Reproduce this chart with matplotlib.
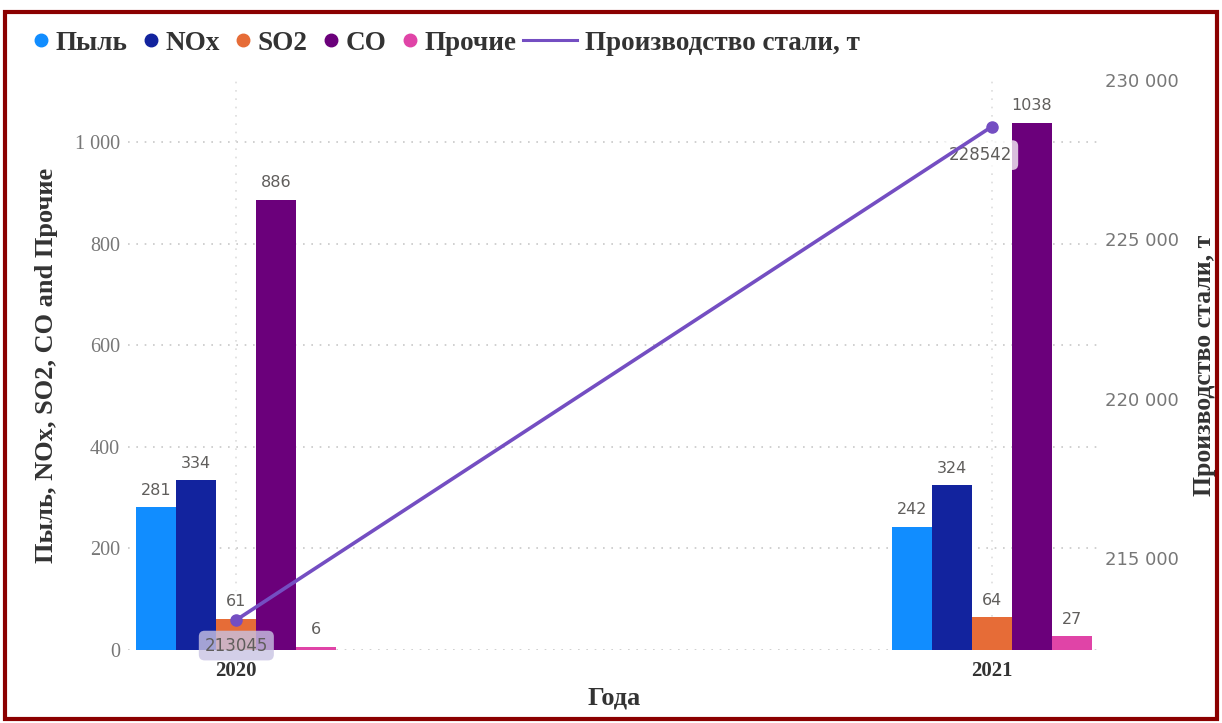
import matplotlib.pyplot as plt
from matplotlib.lines import Line2D
from matplotlib.patches import Rectangle
from matplotlib.ticker import FuncFormatter
import numpy as np

years = ["2020", "2021"]
series = ["Пыль", "NOx", "SO2", "CO", "Прочие"]
dust = [281, 242]
nox = [334, 324]
so2 = [61, 64]
co = [886, 1038]
other = [6, 27]
steel = [213045, 228542]

colors = ["#118DFF", "#12239E", "#E66C37", "#6B007B", "#E044A7"]
line_color = "#744EC2"
label_gray = "#605E5C"
title_color = "#333333"
serif = "Liberation Serif"

fig = plt.figure(figsize=(12.22, 7.23), dpi=100)
ax = fig.add_axes([0.105, 0.101, 0.795, 0.788])
ax2 = ax.twinx()

x = np.arange(len(years))
w = 0.053
values = [dust, nox, so2, co, other]
for i, (name, vals) in enumerate(zip(series, values)):
	pos = x + (i - 2) * w
	ax.bar(pos, vals, width=w, color=colors[i], label=name, zorder=2)
	for px, v in zip(pos, vals):
		ax.annotate(str(v), (px, v), xytext=(0, 7), textcoords="offset points",
			ha="center", va="bottom", fontsize=11.5, color=label_gray, zorder=5,
			bbox=dict(boxstyle="round,pad=0.25", fc="white", ec="none", alpha=0.8))

ax2.plot(x, steel, color=line_color, lw=2.6, marker="o", markersize=8, zorder=4)
ax2.annotate(str(steel[0]), (x[0], steel[0]), xytext=(0, -12), textcoords="offset points",
	ha="center", va="top", fontsize=12, color=label_gray,
	bbox=dict(boxstyle="round,pad=0.35", fc="#C9C3E3", ec="none", alpha=0.8))
ax2.annotate(str(steel[1]), (x[1], steel[1]), xytext=(-8, -14), textcoords="offset points",
	ha="center", va="top", fontsize=12, color=label_gray,
	bbox=dict(boxstyle="round,pad=0.35", fc="white", ec="none", alpha=0.75))

ax.set_xlim(-0.143, 1.143)
ax.set_ylim(0, 1122)
ax2.set_ylim(212100, 230000)
ax.set_zorder(ax2.get_zorder() - 1)
ax.patch.set_visible(False)
ax2.patch.set_visible(False)

space_fmt = FuncFormatter(lambda v, p: f"{int(v):,}".replace(",", " "))
ax.set_yticks(np.arange(0, 1001, 200))
ax.yaxis.set_major_formatter(space_fmt)
ax2.set_yticks(np.arange(215000, 230001, 5000))
ax2.yaxis.set_major_formatter(space_fmt)

ax.set_xticks(x)
ax.set_xticklabels(years, fontfamily=serif, fontweight="bold", fontsize=15, color=title_color)
for lab in ax.get_yticklabels():
	lab.set_fontfamily(serif)
	lab.set_fontsize(14.5)
	lab.set_color("#777777")
for lab in ax2.get_yticklabels():
	lab.set_fontsize(13)
	lab.set_color("#777777")

for a in (ax, ax2):
	for s in a.spines.values():
		s.set_visible(False)
	a.tick_params(length=0)
ax.tick_params(axis="y", pad=6)
ax.tick_params(axis="x", pad=8)
ax2.tick_params(axis="y", pad=4)

ax.grid(axis="y", linestyle=(0, (1, 4)), color="#C8C8C8", lw=1.2, zorder=0)
ax.grid(axis="x", linestyle=(0, (1, 4)), color="#DDDDDD", lw=1.2, zorder=0)

ax.set_xlabel("Года", fontfamily=serif, fontweight="bold", fontsize=19, color=title_color, labelpad=4)
ax.set_ylabel("Пыль, NOx, SO2, CO and Прочие", fontfamily=serif, fontweight="bold",
	fontsize=19, color=title_color, labelpad=12)
ax2.set_ylabel("Производство стали, т", fontfamily=serif, fontweight="bold",
	fontsize=18.5, color=title_color, rotation=90, labelpad=10)

# legend: bar series first, then the line
h1 = [Line2D([], [], ls="", marker="o", markersize=9, color=c) for c in colors]
leg_font = dict(family=serif, weight="bold", size=19.5)
fig.legend(h1, series, loc="center left", bbox_to_anchor=(0.008, 0.94), ncol=5,
	frameon=False, handlelength=0.5, handletextpad=0.3, columnspacing=0.6, prop=leg_font, labelcolor=title_color)
h2 = [Line2D([], [], color=line_color, lw=2.2)]
fig.legend(h2, ["Производство стали, т"], loc="center left", bbox_to_anchor=(0.408, 0.94),
	frameon=False, handlelength=2.0, handletextpad=0.3, prop=leg_font, labelcolor=title_color)

fig.patches.append(Rectangle((0.004, 0.005), 0.992, 0.978, transform=fig.transFigure,
	fill=False, ec="#8B0000", lw=3))

fig.savefig("out.png", dpi=100)
